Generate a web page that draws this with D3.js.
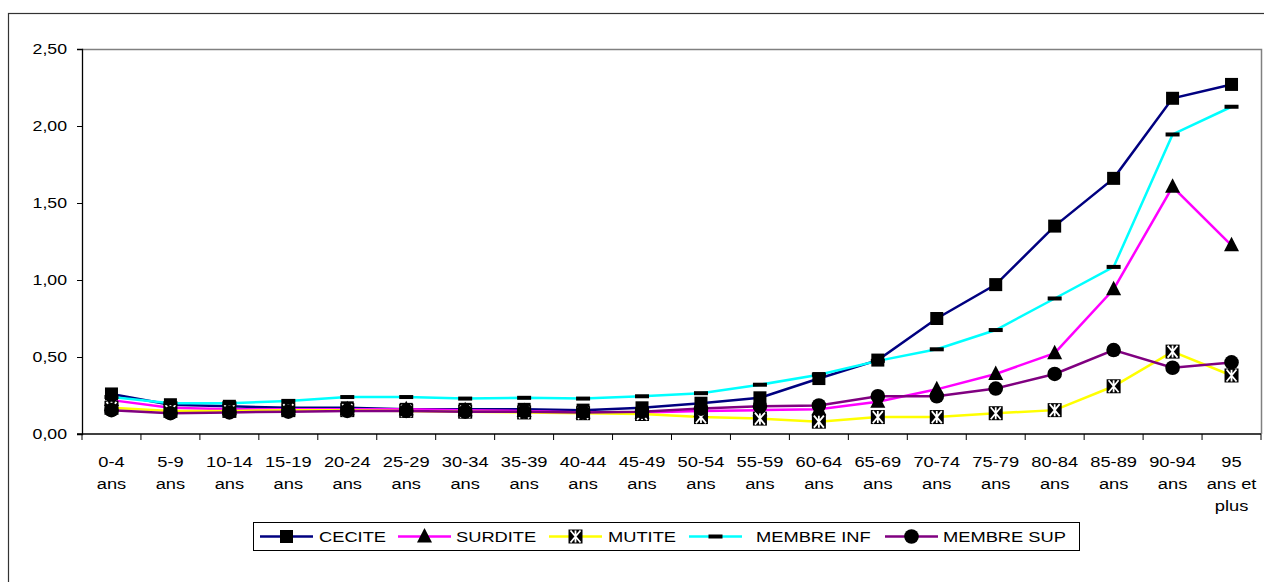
<!DOCTYPE html>
<html>
<head>
<meta charset="utf-8">
<script src="https://cdn.jsdelivr.net/npm/d3@7"></script>
<style>
  body { margin: 0; background: #fff; }
  svg { display: block; font-family: "Liberation Sans", Arial, sans-serif; }
  .tick text { fill: #000; }
</style>
</head>
<body>
<svg id="chart" width="1264" height="582"></svg>
<script>
  // age groups (label lines)
  var categories = [
    ["0-4", "ans"], ["5-9", "ans"], ["10-14", "ans"], ["15-19", "ans"], ["20-24", "ans"],
    ["25-29", "ans"], ["30-34", "ans"], ["35-39", "ans"], ["40-44", "ans"], ["45-49", "ans"],
    ["50-54", "ans"], ["55-59", "ans"], ["60-64", "ans"], ["65-69", "ans"], ["70-74", "ans"],
    ["75-79", "ans"], ["80-84", "ans"], ["85-89", "ans"], ["90-94", "ans"], ["95", "ans et", "plus"]
  ];

  var cecite     = [0.26, 0.19, 0.18, 0.17, 0.17, 0.16, 0.16, 0.16, 0.155, 0.17, 0.20, 0.235, 0.36, 0.48, 0.75, 0.97, 1.35, 1.66, 2.18, 2.27];
  var surdite    = [0.22, 0.17, 0.16, 0.16, 0.16, 0.16, 0.155, 0.15, 0.14, 0.14, 0.15, 0.155, 0.16, 0.21, 0.29, 0.39, 0.525, 0.94, 1.605, 1.225];
  var mutite     = [0.17, 0.15, 0.15, 0.155, 0.155, 0.15, 0.145, 0.14, 0.135, 0.13, 0.11, 0.10, 0.08, 0.11, 0.11, 0.135, 0.155, 0.31, 0.535, 0.38];
  var membreInf  = [0.24, 0.20, 0.20, 0.215, 0.24, 0.24, 0.23, 0.235, 0.23, 0.245, 0.265, 0.32, 0.385, 0.475, 0.55, 0.675, 0.88, 1.085, 1.945, 2.125];
  var membreSup  = [0.155, 0.135, 0.14, 0.145, 0.15, 0.15, 0.145, 0.145, 0.14, 0.145, 0.165, 0.18, 0.185, 0.245, 0.245, 0.295, 0.39, 0.545, 0.43, 0.465];

  var yTicks = [0, 0.5, 1, 1.5, 2, 2.5];

  ( function() {
  var series = [
    { name: "CECITE",     color: "#000080", marker: "square",   values: cecite },
    { name: "SURDITE",    color: "#FF00FF", marker: "triangle", values: surdite },
    { name: "MUTITE",     color: "#FFFF00", marker: "xbox",     values: mutite },
    { name: "MEMBRE INF", color: "#00FFFF", marker: "dash",     values: membreInf },
    { name: "MEMBRE SUP", color: "#800080", marker: "circle",   values: membreSup }
  ];

  var svg = d3.select("#chart");
  var pLeft = 82, pRight = 1261, pTop = 49, pBottom = 434;
  var stretch = 1.18;   // the original text is a bit wider than Arial

  // outer chart frame (its right / bottom run off the picture)
  svg.append("rect").attr("x", 8.5).attr("y", 13.5).attr("width", 1280).attr("height", 620)
    .attr("fill", "none").attr("stroke", "#333").attr("stroke-width", 1.2);

  var x = d3.scaleBand().domain(d3.range(categories.length)).range([pLeft, pRight]);
  var y = d3.scaleLinear().domain([0, 2.5]).range([pBottom, pTop]);

  // plot area border
  svg.append("path").attr("d", "M" + pLeft + "," + (pTop + 0.5) + "H" + (pRight + 0.5) + "V" + pBottom)
    .attr("fill", "none").attr("stroke", "#808080").attr("stroke-width", 1.5);

  var fmt = function(d) { return d.toFixed(2).replace(".", ","); };

  var yAxis = svg.append("g").attr("transform", "translate(" + pLeft + ",0)")
    .call(d3.axisLeft(y).tickValues(yTicks).tickFormat(fmt).tickSize(5).tickPadding(10));
  yAxis.selectAll("text").attr("font-size", 15).attr("font-family", "Liberation Sans, Arial, sans-serif")
    .attr("x", -15 / stretch).attr("transform", "scale(" + stretch + ",1)");
  yAxis.select(".domain").attr("stroke-width", 1.3);

  // x axis: ticks on the category boundaries
  var xg = svg.append("g").attr("transform", "translate(0," + pBottom + ")");
  xg.append("line").attr("x1", pLeft - 5).attr("x2", pRight).attr("stroke", "#000").attr("stroke-width", 1.3);
  xg.selectAll("line.tk").data(d3.range(categories.length + 1)).enter().append("line")
    .attr("class", "tk")
    .attr("x1", function(i) { return pLeft + i * x.step(); })
    .attr("x2", function(i) { return pLeft + i * x.step(); })
    .attr("y1", 0).attr("y2", 6).attr("stroke", "#000");
  xg.selectAll("text").data(categories).enter().append("text")
    .attr("text-anchor", "middle").attr("font-size", 15.5)
    .attr("transform", function(d, i) { return "translate(" + (x(i) + x.bandwidth() / 2) + ",0) scale(" + stretch + ",1)"; })
    .each(function(lines) {
      var t = d3.select(this);
      lines.forEach(function(l, k) {
        t.append("tspan").attr("x", 0).attr("y", 33 + k * 22).text(l);
      });
    });

  var cx = function(i) { return x(i) + x.bandwidth() / 2; };
  var line = d3.line().x(function(d, i) { return cx(i); }).y(function(d) { return y(d); });

  svg.append("g").selectAll("path").data(series).enter().append("path")
    .attr("d", function(s) { return line(s.values); })
    .attr("fill", "none").attr("stroke", function(s) { return s.color; }).attr("stroke-width", 2.5);

  function drawMarker(g, type, px, py) {
    if (type === "square") {
      g.append("rect").attr("x", px - 6.5).attr("y", py - 6.5).attr("width", 13).attr("height", 13).attr("fill", "#000");
    } else if (type === "triangle") {
      g.append("path").attr("d", "M" + px + "," + (py - 8.5) + "L" + (px + 7.5) + "," + (py + 6) + "L" + (px - 7.5) + "," + (py + 6) + "Z").attr("fill", "#000");
    } else if (type === "circle") {
      g.append("circle").attr("cx", px).attr("cy", py).attr("r", 7.3).attr("fill", "#000");
    } else if (type === "dash") {
      g.append("rect").attr("x", px - 7).attr("y", py - 2).attr("width", 14).attr("height", 4).attr("fill", "#000");
    } else if (type === "xbox") {
      g.append("rect").attr("x", px - 7).attr("y", py - 7).attr("width", 14).attr("height", 14).attr("fill", "#000");
      g.append("path").attr("d", "M" + (px - 5) + "," + (py - 6) + "L" + (px + 5) + "," + (py + 6) + "M" + (px + 5) + "," + (py - 6) + "L" + (px - 5) + "," + (py + 6) + "M" + px + "," + (py - 6) + "V" + (py + 6))
        .attr("stroke", "#fff").attr("stroke-width", 1.8);
    }
  }

  var mg = svg.append("g");
  series.forEach(function(s) {
    s.values.forEach(function(v, i) { drawMarker(mg, s.marker, cx(i), y(v)); });
  });

  // legend
  var lg = svg.append("g");
  lg.append("rect").attr("x", 253.5).attr("y", 522.5).attr("width", 826).attr("height", 28)
    .attr("fill", "#fff").attr("stroke", "#000").attr("stroke-width", 1);
  var legLine = [260, 398, 549, 689, 885];
  var legText = [319, 456, 608, 756, 943];
  series.forEach(function(s, k) {
    var lx = legLine[k], ly = 536.5;
    var lgItem = lg.append("g");
    lgItem.append("line").attr("x1", lx).attr("x2", lx + 53).attr("y1", ly).attr("y2", ly)
      .attr("stroke", s.color).attr("stroke-width", 2.5);
    drawMarker(lgItem, s.marker, lx + 26.5, ly);
    lgItem.append("text").attr("font-size", 15.5)
      .attr("transform", "translate(" + legText[k] + "," + (ly + 5.5) + ") scale(" + stretch + ",1)")
      .text(s.name);
  });
  } )();
</script>
</body>
</html>
